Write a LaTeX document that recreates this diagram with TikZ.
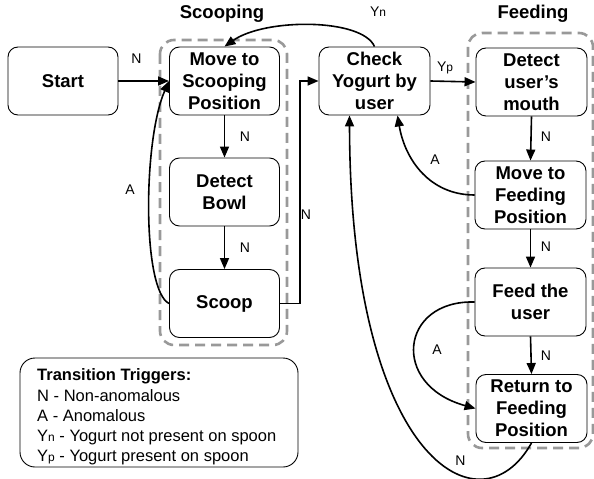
\documentclass[tikz,border=0pt]{standalone}
\usepackage{fontspec}
\setmainfont{Liberation Sans}
\usetikzlibrary{arrows.meta,calc}
\begin{document}
\begin{tikzpicture}[x=1bp,y=-1bp,
  state/.style={draw, line width=0.9bp, rounded corners=10bp, minimum width=110bp, minimum height=68bp, inner sep=0pt, align=center, font=\fontsize{18.5bp}{22bp}\selectfont\bfseries},
  edge/.style={line width=1.6bp, -{Triangle[length=11bp,width=9bp]}},
  lab/.style={font=\fontsize{14bp}{16bp}\selectfont, inner sep=0pt},
  group/.style={draw=black!40, line width=2.6bp, dash pattern=on 10bp off 6bp, rounded corners=14bp},
  grouptitle/.style={font=\fontsize{18.5bp}{22bp}\selectfont\bfseries, inner sep=0pt},
  legendbox/.style={draw, line width=0.9bp, rounded corners=15bp, minimum width=278bp, minimum height=109bp, inner sep=0pt}]
\useasboundingbox (0,0) rectangle (594,479);
\newcommand{\smallsub}[1]{{\fontsize{12bp}{12bp}\selectfont #1}}
% groups
\draw[group] (160,40) rectangle (287,345);
\draw[group] (468,33) rectangle (593,448);
\node[grouptitle] (tscoop) at (222,14) {Scooping};
\node[grouptitle] (tfeed) at (533,14) {Feeding};
% states
\node[state] (st) at (63,81) {Start};
\node[state] (ms) at (224.5,81) {Move to\\Scooping\\Position};
\node[state] (db) at (224.5,192) {Detect\\Bowl};
\node[state] (sc) at (224.5,303.5) {Scoop};
\node[state, minimum width=111bp] (cy) at (374.5,81) {Check\\Yogurt by\\user};
\node[state, minimum width=111bp] (dm) at (531.5,82) {Detect\\user’s\\mouth};
\node[state, minimum width=111bp] (mf) at (530.5,195) {Move to\\Feeding\\Position};
\node[state, minimum width=111bp] (fu) at (530.5,302) {Feed the\\user};
\node[state, minimum width=111bp] (rf) at (531.5,408.5) {Return to\\Feeding\\Position};
% legend
\node[legendbox] (leg) at (159,412.5) {};
\node[anchor=west, align=left, inner sep=0pt, font=\fontsize{16.5bp}{20.2bp}\selectfont] (legtxt) at (37,417)
 {\textbf{Transition Triggers:}\\N - Non-anomalous\\A - Anomalous\\Y\smallsub{n} - Yogurt not present on spoon\\Y\smallsub{p} - Yogurt present on spoon};
% edges
\draw[edge] (st.east) -- (ms.west);
\node[lab] (l1) at (136.5,58.5) {N};
\draw[edge] (ms.south) -- (db.north);
\node[lab] (l2) at (245,137) {N};
\draw[edge] (db.south) -- (sc.north);
\node[lab] (l3) at (245,248) {N};
\draw[edge] (sc.west) .. controls (142,290) and (143,140) .. (ms.west);
\node[lab] (l4) at (130,190) {A};
\draw[edge] (sc.east) -- ++(20,0) |- (cy.west);
\node[lab] (l5) at (306,215) {N};
\draw[edge] (cy.north) .. controls (362,18) and (265,18) .. (ms.north);
\node[lab] (l6) at (378,12) {Y\smallsub{n}};
\draw[edge] (cy.east) -- (dm.west);
\node[lab] (l7) at (445,68) {Y\smallsub{p}};
\draw[edge] (dm.south) -- (mf.north);
\node[lab] (l8) at (546,137) {N};
\coordinate (cyA) at ($(cy.south)+(23,0)$);
\draw[edge] (mf.west) .. controls (430,195) and (405,160) .. (cyA);
\node[lab] (l9) at (435,160) {A};
\draw[edge] (mf.south) -- (fu.north);
\node[lab] (l10) at (546,247) {N};
\draw[edge] (fu.south) -- (rf.north);
\node[lab] (l11) at (546,356) {N};
\draw[edge] (fu.west) .. controls (400,300) and (390,385) .. (rf.west);
\node[lab] (l12) at (437,350) {A};
\coordinate (cyN) at ($(cy.south)+(-25,0)$);
\draw[edge] (rf.south) .. controls (480,535) and (350,460) .. (cyN);
\node[lab] (l13) at (460.5,460.5) {N};
\end{tikzpicture}
\end{document}
